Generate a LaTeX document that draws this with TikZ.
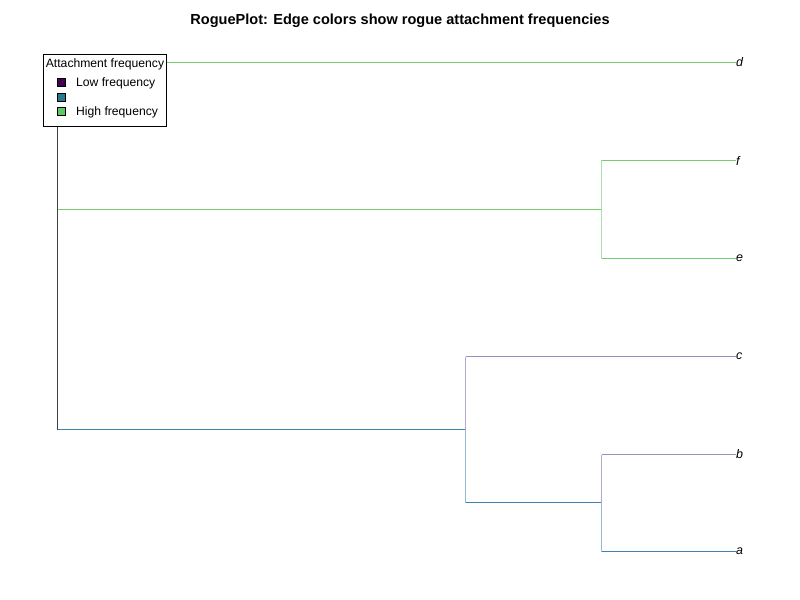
\documentclass[tikz,border=0pt]{standalone}
\usepackage{fontspec}
\setmainfont{Liberation Sans}
\usepackage{xcolor}
\definecolor{LowFreq}{HTML}{440154}
\definecolor{MidFreq}{HTML}{2A788E}
\definecolor{HighFreq}{HTML}{5DC863}
\definecolor{EdgePurple}{HTML}{9690BC}
\definecolor{EdgeBlue}{HTML}{3F82AC}
\definecolor{EdgeGreen}{HTML}{70D070}
\definecolor{StemPurple}{HTML}{ADA8CC}
\definecolor{StemBlue}{HTML}{92BCD6}
\definecolor{StemGreen}{HTML}{A8E2A8}
\definecolor{RootGray}{HTML}{404040}
\tikzset{
    edge/.style={line width=1.3bp},
    tip/.style={anchor=west, inner sep=0pt, font=\itshape\fontsize{12.5}{14}\selectfont},
    key/.style={draw=black, line width=0.6bp, minimum size=8bp, inner sep=0pt},
    legtext/.style={font=\fontsize{12.2}{14}\selectfont}
}

\begin{document}
\begin{tikzpicture}[x=1bp, y=-1bp]
\useasboundingbox (0,0) rectangle (800,600);
% Title
\node[font=\bfseries\fontsize{14.6}{17}\selectfont] (title) at (400,21) {RoguePlot: Edge colors show rogue attachment frequencies};

% Nodes
\coordinate (root) at (57.5,62.5);
\coordinate (rootlow) at (57.5,429.5);
\coordinate (fe) at (601.5,209.5);
\coordinate (abc) at (465.5,429.5);
\coordinate (ab) at (601.5,502.5);

\node[tip] (d) at (736,62.5) {d};
\node[tip] (f) at (736,160.5) {f};
\node[tip] (e) at (736,258.5) {e};
\node[tip] (c) at (736,356.5) {c};
\node[tip] (b) at (736,454.5) {b};
\node[tip] (a) at (736,551.5) {a};

% Edges
\draw[edge, RootGray] (root) -- (rootlow);
\draw[edge, EdgeGreen] (root) -- (d.west);
\draw[edge, EdgeGreen] (root |- fe) -- (fe);
\draw[edge, EdgeBlue] (rootlow) -- (abc);

\draw[edge, StemGreen] (fe |- f) -- (fe |- e);
\draw[edge, EdgeGreen] (fe |- f) -- (f.west);
\draw[edge, EdgeGreen] (fe |- e) -- (e.west);

\draw[edge, StemPurple] (abc |- c) -- (abc);
\draw[edge, StemBlue] (abc) -- (abc |- ab);
\draw[edge, EdgePurple] (abc |- c) -- (c.west);
\draw[edge, EdgeBlue] (abc |- ab) -- (ab);

\draw[edge, StemPurple] (ab |- b) -- (ab);
\draw[edge, StemBlue] (ab) -- (ab |- a);
\draw[edge, EdgePurple] (ab |- b) -- (b.west);
\draw[edge, EdgeBlue] (ab |- a) -- (a.west);

% Legend
\node[draw=black, fill=white, line width=0.6bp, minimum width=123bp, minimum height=72bp, inner sep=0pt] (legend) at (104.5,90) {};
\node[legtext] (legtitle) at (105,64.5) {Attachment frequency};
\node[key, fill=LowFreq] (keylow) at (61,82.5) {};
\node[key, fill=MidFreq] (keymid) at (61,97) {};
\node[key, fill=HighFreq] (keyhigh) at (61,111.5) {};
\node[legtext, anchor=west, inner sep=0pt] (lowtext) at (76,83) {Low frequency};
\node[legtext, anchor=west, inner sep=0pt] (hightext) at (76,112) {High frequency};
\end{tikzpicture}
\end{document}
